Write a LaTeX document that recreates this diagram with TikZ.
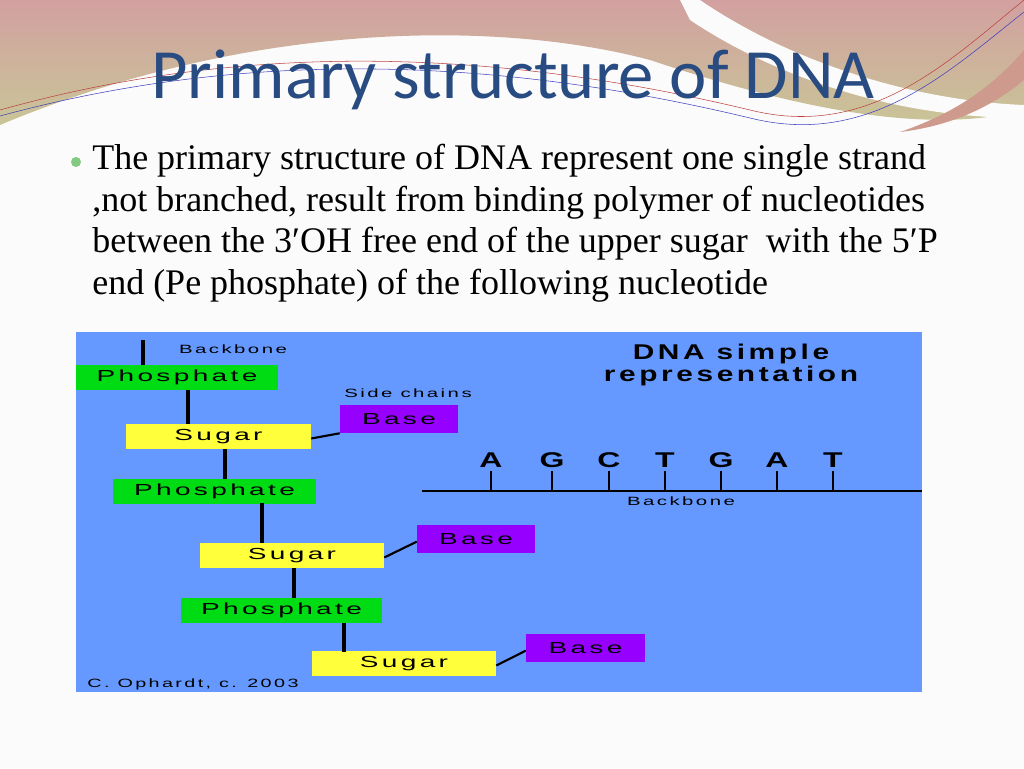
\documentclass[tikz,border=0pt]{standalone}
\usepackage{fontspec}
\usepackage{graphicx}
\setmainfont{Liberation Serif}
\newfontfamily\titlefont{Carlito}
\newfontfamily\panelfont{Liberation Sans}
\newcommand\widetxt[2]{\scalebox{#1}[1]{\addfontfeature{LetterSpace=12}#2}}
\begin{document}
\begin{tikzpicture}[x=0.75pt,y=-0.75pt,
  box/.style={draw=none,inner sep=0pt,minimum height=25*0.75pt,font=\panelfont\fontsize{12}{12}\selectfont},
  phos/.style={box,fill=phosgreen},
  sug/.style={box,fill=sugyellow},
  bas/.style={box,fill=basepurple,minimum height=28*0.75pt},
  lab/.style={font=\panelfont\fontsize{9}{9}\selectfont,inner sep=0pt},
  bond/.style={line width=2.4pt},
  side/.style={line width=1.6pt}]
\definecolor{phosgreen}{RGB}{0,220,20}
\definecolor{sugyellow}{RGB}{255,255,60}
\definecolor{basepurple}{RGB}{150,0,255}
\definecolor{panelblue}{RGB}{102,153,255}
\definecolor{titleblue}{RGB}{40,75,130}
\definecolor{decpink}{RGB}{210,160,160}
\definecolor{decgreen}{RGB}{200,200,150}
\useasboundingbox (0,0) rectangle (1024,768);
\fill[white!97!gray] (0,0) rectangle (1024,768);
% top decoration
\shade[top color=decpink,bottom color=decgreen] (0,0) -- (1024,0) -- (1024,110) .. controls (930,135) and (800,110) .. (650,60) .. controls (500,20) and (250,20) .. (0,125) -- cycle;
\fill[white!97!gray] (700,0) .. controls (780,55) and (900,100) .. (1024,105) -- (1024,118) .. controls (900,118) and (780,80) .. (690,20) -- (680,0) -- cycle;
\fill[decpink!80!brown] (1024,50) .. controls (990,90) and (950,115) .. (900,132) .. controls (960,125) and (1000,100) .. (1024,80) -- cycle;
\draw[red!50!gray,thin] (0,110) .. controls (250,40) and (500,50) .. (750,110) .. controls (870,140) and (950,60) .. (1024,0);
\draw[blue!50!gray,thin] (0,116) .. controls (250,48) and (500,58) .. (750,118) .. controls (870,148) and (950,70) .. (1024,12);
% title
\node[font=\titlefont\fontsize{53}{53}\selectfont,text=titleblue,inner sep=0pt] (title) at (513,80) {Primary structure of DNA};
% bullet text
\fill[green!40!gray!70!white] (76,162) circle (5);
\node[anchor=north west,align=left,inner sep=0pt,font=\fontsize{27}{31.2}\selectfont] (body) at (92,144)
{The primary structure of DNA represent one single strand\\
,not branched, result from binding polymer of nucleotides\\
between the 3′OH free end of the upper sugar\ \ with the 5′P\\
end (Pe phosphate) of the following nucleotide};
% panel
\fill[panelblue] (76,332) rectangle (922,692);
\node[phos,minimum width=202*0.75pt] (p1) at (177,377.5) {\widetxt{1.75}{Phosphate}};
\node[sug,minimum width=185*0.75pt] (s1) at (218.5,436.5) {\widetxt{1.75}{Sugar}};
\node[bas,minimum width=118*0.75pt] (b1) at (399,419) {\widetxt{1.75}{Base}};
\node[phos,minimum width=203*0.75pt] (p2) at (214.5,491) {\widetxt{1.75}{Phosphate}};
\node[sug,minimum width=184*0.75pt] (s2) at (292,555.5) {\widetxt{1.75}{Sugar}};
\node[bas,minimum width=118*0.75pt] (b2) at (476,539) {\widetxt{1.75}{Base}};
\node[phos,minimum width=201*0.75pt] (p3) at (281.5,610.5) {\widetxt{1.75}{Phosphate}};
\node[sug,minimum width=184*0.75pt] (s3) at (404,663.5) {\widetxt{1.75}{Sugar}};
\node[bas,minimum width=119*0.75pt] (b3) at (585.5,648) {\widetxt{1.75}{Base}};
\coordinate (top) at (143,340);
\draw[bond] (top) -- (143,365);
\draw[bond] (188,390) -- (188,424);
\draw[bond] (225,449) -- (225,479);
\draw[bond] (262,503) -- (262,543);
\draw[bond] (294,568) -- (294,598);
\draw[bond] (344,623) -- (344,652);
\draw[side] (s1.east) ++(0,2) -- (b1.south west);
\draw[side] (s2.east) ++(0,2) -- ([yshift=-2]b2.west);
\draw[side] (s3.east) ++(0,2) -- ([yshift=-2]b3.west);
\node[lab] (bbl) at (233,349) {\widetxt{1.7}{Backbone}};
\node[lab] (scl) at (408,393) {\widetxt{1.7}{Side chains}};
\node[lab] (cop) at (193,684) {\widetxt{1.65}{C. Ophardt, c. 2003}};
\node[font=\panelfont\bfseries\fontsize{16}{16}\selectfont,align=center,inner sep=0pt] (dtitle) at (731,365) {\widetxt{1.4}{DNA simple}\\[1pt]\widetxt{1.4}{representation}};
\coordinate (bl) at (422,491);
\coordinate (br) at (922,491);
\draw[line width=1.5pt] (bl) -- (br);
\foreach \x/\l in {491/A,552/G,609/C,665/T,721/G,777/A,833/T}{
  \draw[line width=2.2pt] (\x,471) -- (\x,491);
  \node[font=\panelfont\bfseries\fontsize{16}{16}\selectfont,inner sep=0pt] at (\x,460) {\scalebox{1.5}[1]{\l}};
}
\node[lab] (bbr) at (681,501) {\widetxt{1.7}{Backbone}};
\end{tikzpicture}
\end{document}
